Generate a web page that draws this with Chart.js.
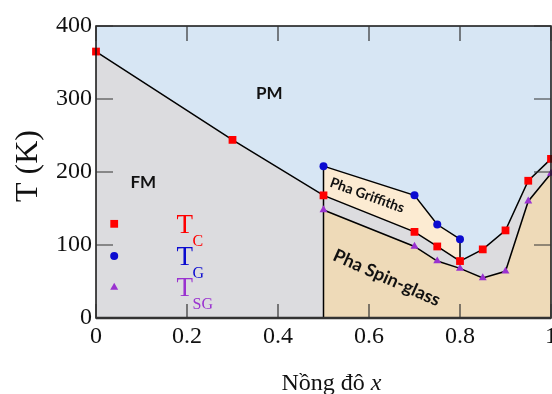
<!DOCTYPE html>
<html>
<head>
<meta charset="utf-8">
<script src="https://cdn.jsdelivr.net/npm/chart.js@4.4.1/dist/chart.umd.min.js"></script>
<style>
  html, body { margin: 0; padding: 0; background: #fff; }
</style>
</head>
<body>
<canvas id="phaseChart" width="552" height="394"></canvas>
<script>
// Values (x = concentration, T in K)
const xTC = [0, 0.3, 0.5, 0.7, 0.75, 0.8, 0.85, 0.9, 0.95, 1.0];
const tC  = [365, 244, 168, 118, 98, 78, 94, 120, 188, 218];

const xTG = [0.5, 0.7, 0.75, 0.8];
const tG  = [208, 168, 128, 108];

const xSG = [0.5, 0.7, 0.75, 0.8, 0.85, 0.9, 0.95, 1.0];
const tSG = [148, 98, 78, 68, 55, 64, 160, 198];

const xTicks = [0, 0.2, 0.4, 0.6, 0.8, 1];
const xTickLabels = ['0', '0.2', '0.4', '0.6', '0.8', '1'];
const yTicks = [0, 100, 200, 300, 400];

const RED = '#ff0000';
const BLUE = '#0b0bd0';
const PURPLE = '#9a32d0';

const toPts = (xs, ys) => xs.map((x, i) => ({ x: x, y: ys[i] }));

// lower edge of the Griffiths region = Tc between first and last Tg point
const griffLow = toPts(xTC, tC).filter(p => p.x >= xTG[0] && p.x <= xTG[xTG.length - 1]);
const tcAtLastTg = griffLow[griffLow.length - 1].y;

function fillSet(data, color, fill, order) {
  return {
    data: data, backgroundColor: color, borderWidth: 0, pointRadius: 0,
    fill: fill, order: order, tension: 0
  };
}

function lineSet(data, color, style, radius, order) {
  return {
    data: data, borderColor: '#000', borderWidth: 1.5, fill: false, tension: 0,
    pointStyle: style, pointRadius: radius, pointBackgroundColor: color,
    pointBorderColor: color, pointBorderWidth: 0, order: order
  };
}

const serif = '"Liberation Serif", "Times New Roman", serif';
const sansBold = 'Lato, "Open Sans", sans-serif';

const phasePlugin = {
  id: 'phase',
  beforeDraw(chart) {
    const { ctx, chartArea: a } = chart;
    ctx.save();
    ctx.fillStyle = '#fff';
    ctx.fillRect(0, 0, chart.width, chart.height);
    ctx.fillStyle = '#d7e6f4'; // PM background
    ctx.fillRect(a.left, a.top, a.right - a.left, a.bottom - a.top);
    ctx.restore();
  },
  afterDatasetsDraw(chart) {
    const { ctx, chartArea: a, scales: { x, y } } = chart;
    ctx.save();

    // frame
    ctx.strokeStyle = '#111';
    ctx.lineWidth = 1.5;
    ctx.strokeRect(a.left, a.top, a.right - a.left, a.bottom - a.top);
    ctx.strokeStyle = '#333';
    ctx.lineWidth = 2.5;
    ctx.beginPath();
    ctx.moveTo(a.left, a.bottom);
    ctx.lineTo(a.right, a.bottom);
    ctx.stroke();

    // inward ticks on all four sides
    ctx.strokeStyle = '#333';
    ctx.lineWidth = 1.2;
    ctx.beginPath();
    xTicks.forEach(v => {
      const px = x.getPixelForValue(v);
      ctx.moveTo(px, a.bottom); ctx.lineTo(px, a.bottom - 14);
      ctx.moveTo(px, a.top); ctx.lineTo(px, a.top + 15);
    });
    yTicks.forEach(v => {
      const py = y.getPixelForValue(v);
      ctx.moveTo(a.left, py); ctx.lineTo(a.left + 17, py);
      ctx.moveTo(a.right, py); ctx.lineTo(a.right - 17, py);
    });
    ctx.stroke();

    // x tick labels (drawn here so the last one can run off the canvas like the original)
    ctx.fillStyle = '#111';
    ctx.font = '24px ' + serif;
    ctx.textAlign = 'center';
    ctx.textBaseline = 'alphabetic';
    xTicks.forEach((v, i) => {
      ctx.fillText(xTickLabels[i], x.getPixelForValue(v), a.bottom + 25);
    });

    // region names
    const label = (text, vx, vy, size, angle) => {
      ctx.save();
      ctx.translate(x.getPixelForValue(vx), y.getPixelForValue(vy));
      ctx.rotate(angle * Math.PI / 180);
      ctx.font = 'bold ' + size + 'px ' + sansBold;
      ctx.fillStyle = '#111';
      ctx.textAlign = 'center';
      ctx.textBaseline = 'middle';
      ctx.fillText(text, 0, 0);
      ctx.restore();
    };
    label('PM', 0.381, 307, 17, 0);
    label('FM', 0.104, 185, 17, 0);
    label('Pha Griffiths', 0.596, 168, 14, 20);
    label('Pha Spin-glass', 0.639, 55, 18, 24);

    // legend with subscripts
    const legend = [
      { style: 'rect', r: 5.5, color: RED, sub: 'C', t: 129 },
      { style: 'circle', r: 4, color: BLUE, sub: 'G', t: 85 },
      { style: 'triangle', r: 4.6, color: PURPLE, sub: 'SG', t: 42 }
    ];
    legend.forEach(item => {
      const py = y.getPixelForValue(item.t);
      ctx.fillStyle = item.color;
      Chart.helpers.drawPoint(ctx, { pointStyle: item.style, radius: item.r, rotation: 0, borderWidth: 0 },
        x.getPixelForValue(0.04), py);
      ctx.fillStyle = item.color;
      ctx.textAlign = 'left';
      ctx.textBaseline = 'alphabetic';
      ctx.font = '27px ' + serif;
      const tx = x.getPixelForValue(0.177);
      ctx.fillText('T', tx, py + 9);
      ctx.font = '16px ' + serif;
      ctx.fillText(item.sub, tx + 16, py + 22);
    });

    // axis titles
    ctx.fillStyle = '#111';
    const part1 = 'Nồng đô ';
    ctx.font = '24px ' + serif;
    const w1 = ctx.measureText(part1).width;
    ctx.font = 'italic 24px ' + serif;
    const w2 = ctx.measureText('x').width;
    const cx = (a.left + a.right) / 2 + 8;
    const startX = cx - (w1 + w2) / 2;
    ctx.textAlign = 'left';
    ctx.textBaseline = 'alphabetic';
    ctx.font = '24px ' + serif;
    ctx.fillText(part1, startX, 390);
    ctx.font = 'italic 24px ' + serif;
    ctx.fillText('x', startX + w1, 390);

    ctx.save();
    ctx.translate(29, 166);
    ctx.rotate(-Math.PI / 2);
    ctx.font = '32px ' + serif;
    ctx.textAlign = 'center';
    ctx.textBaseline = 'middle';
    ctx.fillText('T (K)', 0, 0);
    ctx.restore();

    ctx.restore();
  }
};

new Chart(document.getElementById('phaseChart'), {
  type: 'line',
  data: {
    datasets: [
      fillSet(toPts(xTC, tC), '#dcdcdf', 'origin', 20),          // FM region
      fillSet(toPts(xSG, tSG), '#eedab8', 'origin', 19),         // spin-glass region
      fillSet(toPts(xTG, tG), '#fcebd2', { target: 3 }, 18),     // Griffiths region
      fillSet(griffLow, 'rgba(0,0,0,0)', false, 18),
      lineSet([{ x: xTG[0], y: 0 }, { x: xTG[0], y: tG[0] }], '#000', 'circle', 0, 10),
      lineSet([{ x: xTG[xTG.length - 1], y: tcAtLastTg }, { x: xTG[xTG.length - 1], y: tG[tG.length - 1] }], '#000', 'circle', 0, 10),
      lineSet(toPts(xSG, tSG), PURPLE, 'triangle', 4.6, 3),
      lineSet(toPts(xTG, tG), BLUE, 'circle', 4, 2),
      lineSet(toPts(xTC, tC), RED, 'rect', 5.5, 1)
    ]
  },
  options: {
    responsive: false,
    animation: false,
    devicePixelRatio: 1,
    layout: { autoPadding: false, padding: { top: 26, right: 1, left: 0, bottom: 0 } },
    clip: false,
    plugins: {
      legend: { display: false },
      tooltip: { enabled: false },
      title: { display: false }
    },
    scales: {
      x: {
        type: 'linear',
        min: 0,
        max: 1,
        afterFit(s) { s.height = 76; },
        grid: { display: false, drawTicks: false },
        border: { display: false },
        ticks: { display: false, stepSize: 0.2 }
      },
      y: {
        min: 0,
        max: 400,
        afterFit(s) { s.width = 96; s.paddingTop = 0; s.paddingBottom = 0; },
        grid: { display: false, drawTicks: false },
        border: { display: false },
        ticks: {
          stepSize: 100,
          padding: 4,
          color: '#111',
          font: { family: serif, size: 24 }
        }
      }
    }
  },
  plugins: [phasePlugin]
});
</script>
</body>
</html>
